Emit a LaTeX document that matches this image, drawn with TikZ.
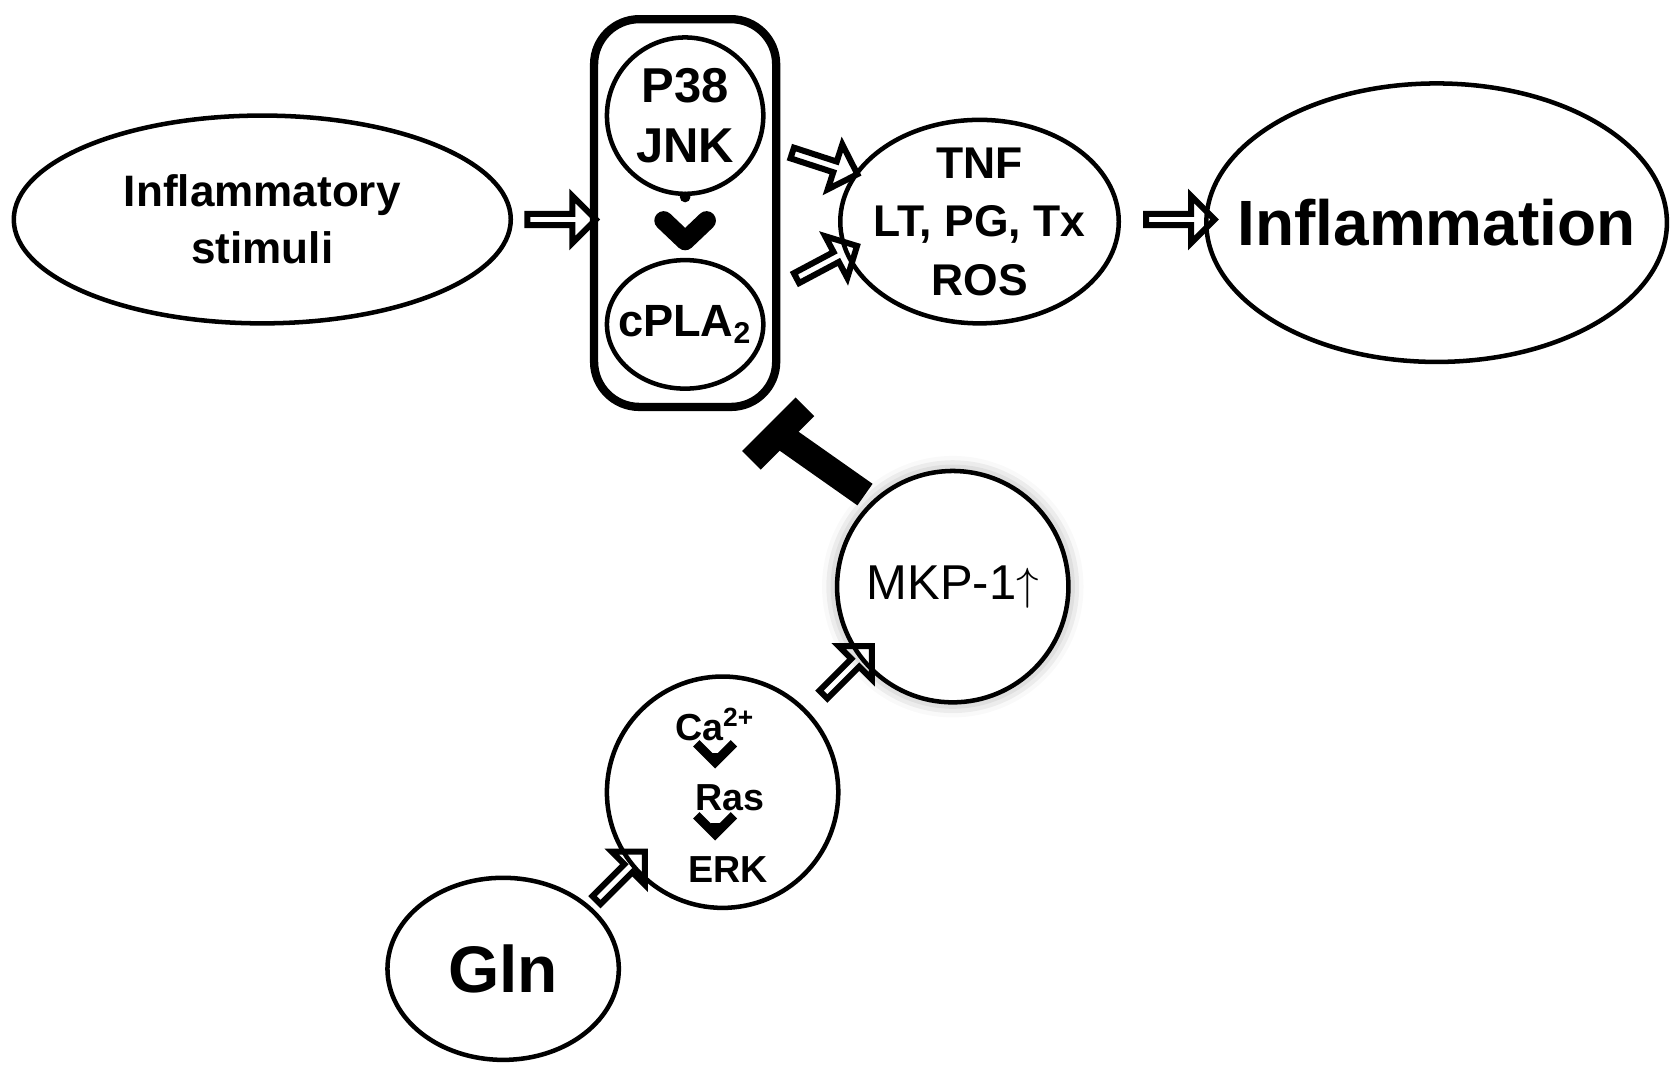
\documentclass[tikz,border=0pt]{standalone}
\usepackage{fontspec}
\setmainfont{Liberation Sans}
\usetikzlibrary{shapes.geometric,shapes.arrows,shadows.blur,arrows.meta}

\tikzset{
  lbl/.style={align=center,font=\bfseries,inner sep=0pt},
  ring/.style={line width=1.2pt},
  blk/.style={single arrow,draw,line width=1.6pt,minimum height=0.64cm,minimum width=0.44cm,
    single arrow head extend=0.09cm,inner sep=0pt},
  smallarr/.style={-{Straight Barb[length=5pt,width=10pt]},line width=2.4pt}
}

\begin{document}
\begin{tikzpicture}[x=0.01cm,y=-0.01cm]
\useasboundingbox (0,0) rectangle (1560,996);

% top row
\node[lbl,font=\bfseries\fontsize{11.7}{15}\selectfont] (stim) at (245,205) {Inflammatory\\stimuli};
\draw[ring] (stim) ellipse [x radius=2.32cm,y radius=0.97cm];
\node[draw,rounded corners=12pt,line width=2.2pt,minimum width=1.70cm,minimum height=3.62cm] (box) at (640,199) {};
\node[lbl,font=\bfseries\fontsize{13}{16}\selectfont] (p38) at (640,108) {P38\\JNK};
\draw[ring] (p38) circle [radius=0.73cm];
\node[lbl,font=\bfseries\fontsize{12}{14}\selectfont] (cpla) at (640,303) {cPLA\textsubscript{2}};
\draw[ring] (cpla) ellipse [x radius=0.73cm,y radius=0.60cm];
\node[lbl,font=\bfseries\fontsize{11.8}{15.5}\selectfont] (tnf) at (915,207) {TNF\\LT, PG, Tx\\ROS};
\draw[ring] (tnf) ellipse [x radius=1.30cm,y radius=0.95cm];
\node[lbl,font=\bfseries\fontsize{17}{20}\selectfont] (infl) at (1342,208) {Inflammation};
\draw[ring] (infl) ellipse [x radius=2.15cm,y radius=1.30cm];

% dotted link inside the box
\fill (640,184) coordinate (dt) circle (5);
\draw[line width=5pt,line cap=round,line join=round] (620,206) -- (640,225) -- (660,206);

% bottom
\node[circle,draw,ring,minimum size=2.16cm,blur shadow={shadow xshift=0pt,shadow yshift=0pt,shadow blur radius=4pt},fill=white,font=\fontsize{13}{16}\selectfont] (mkp) at (890,548) {MKP-1$\uparrow$};
\node[circle,draw,ring,minimum size=2.16cm] (sig) at (675,740) {};
\node[lbl,font=\bfseries\fontsize{10}{12}\selectfont] (ca) at (668,677) {Ca\textsuperscript{2+}};
\node[lbl,font=\bfseries\fontsize{10}{12}\selectfont] (ras) at (682,745) {Ras};
\node[lbl,font=\bfseries\fontsize{10}{12}\selectfont] (erk) at (680,812) {ERK};
\draw[smallarr] ([yshift=-3]ca.south) -- ([yshift=4]ras.north -| ca.south);
\draw[smallarr] ([yshift=-3]ras.south -| ca.south) -- ([yshift=4]erk.north -| ca.south);
\node[lbl,font=\bfseries\fontsize{17.5}{20}\selectfont] (gln) at (470,905) {Gln};
\draw[ring] (gln) ellipse [x radius=1.08cm,y radius=0.85cm];

% block arrows
\node[blk] (a1) at (522,205) {};
\node[blk,rotate=-18] (a2) at (768,152) {};
\node[blk,rotate=28] (a3) at (770,246) {};
\node[blk] (a4) at (1100,205) {};
\node[blk,rotate=45] (a5) at (790,628) {};
\node[blk,rotate=45] (a6) at (578,820) {};

% inhibition
\coordinate (tb) at (727,405);
\coordinate (ts) at (808,462);
\draw[line width=7pt] (ts) -- (tb);
\draw[line width=7pt] (702,430) -- (752,380);
\end{tikzpicture}
\end{document}
